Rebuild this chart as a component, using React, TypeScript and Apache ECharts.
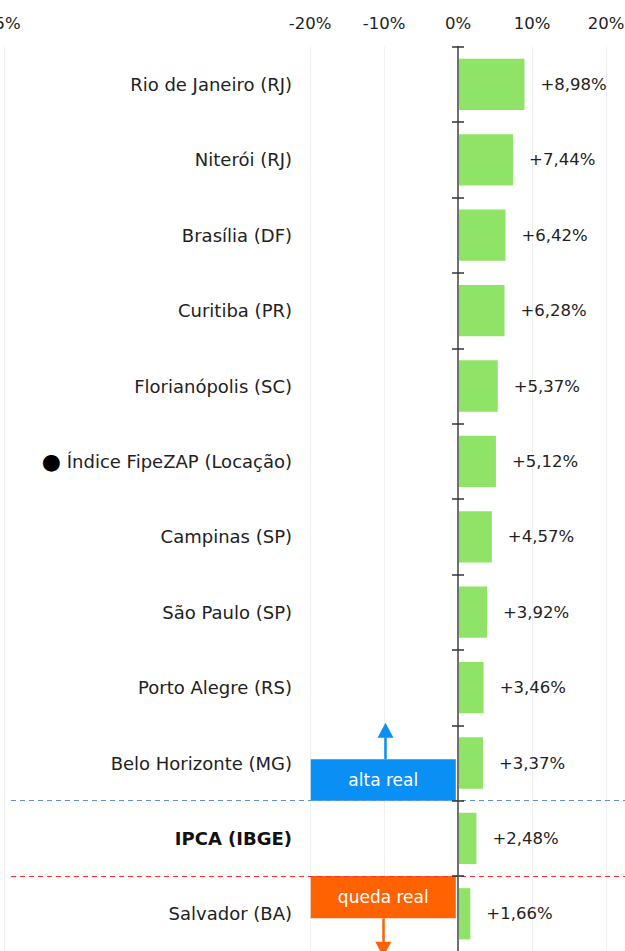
import React, { useEffect, useRef } from "react";
import * as echarts from "echarts";

const categories = [
  "Rio de Janeiro (RJ)",
  "Niterói (RJ)",
  "Brasília (DF)",
  "Curitiba (PR)",
  "Florianópolis (SC)",
  "Índice FipeZAP (Locação)",
  "Campinas (SP)",
  "São Paulo (SP)",
  "Porto Alegre (RS)",
  "Belo Horizonte (MG)",
  "IPCA (IBGE)",
  "Salvador (BA)",
];
const values = [8.98, 7.44, 6.42, 6.28, 5.37, 5.12, 4.57, 3.92, 3.46, 3.37, 2.48, 1.66];
const boldCategory = "IPCA (IBGE)";
const dotCategory = "Índice FipeZAP (Locação)";

const X_MIN = -61.25;
const X_MAX = 22.56;
const xTicks = [X_MIN, -20, -10, 0, 10, 20];
const xTickLabels = ["-5%", "-20%", "-10%", "0%", "10%", "20%"];

// row boundaries (in row units, 0 = top) for the IPCA thresholds
const altaLine = 10;
const quedaLine = 11;
const altaText = "alta real";
const quedaText = "queda real";

const FONT = "DejaVu Sans";

const W = 625;
const H = 1000;
const GRID_LEFT = 4.7;
const GRID_TOP = 46.7;
const GRID_BOTTOM_Y = 951.5;

export default function App() {
  const ref = useRef<HTMLDivElement>(null);
  useEffect(() => {
    if (!ref.current) return;
    const chart = echarts.init(ref.current, undefined, { renderer: "svg" });
    const fmtPct = (v: number) => "+" + v.toFixed(2).replace(".", ",") + "%";
    // pixel position of value 0 on the x axis, so the category axis sits on it
    const zeroX = GRID_LEFT + ((0 - X_MIN) / (X_MAX - X_MIN)) * (W - GRID_LEFT);
    const axisOffset = -(zeroX - GRID_LEFT);
    const option: any = {
      animation: false,
      textStyle: { fontFamily: FONT },
      grid: {
        left: GRID_LEFT,
        right: 0,
        top: GRID_TOP,
        bottom: H - GRID_BOTTOM_Y,
        containLabel: false,
        outerBoundsMode: "none",
      },
      xAxis: {
        type: "value",
        position: "top",
        min: X_MIN,
        max: X_MAX,
        axisLine: { show: false },
        axisTick: { show: false, customValues: xTicks },
        axisLabel: {
          customValues: xTicks,
          fontSize: 16.5,
          color: "#222",
          margin: 15,
          fontFamily: FONT,
          formatter: (v: number) => {
            const i = xTicks.findIndex((t) => Math.abs(t - v) < 1e-6);
            return i >= 0 ? xTickLabels[i] : "";
          },
        },
        splitLine: { show: true, lineStyle: { color: "#efefef", width: 1 } },
      },
      yAxis: [
        {
          type: "category",
          data: categories,
          inverse: true,
          position: "left",
          offset: axisOffset,
          z: 10,
          axisLine: { show: true, onZero: false, lineStyle: { color: "#707070", width: 2 } },
          axisTick: { show: true, length: 6, lineStyle: { color: "#333", width: 1.5 } },
          axisLabel: {
            margin: 166,
            fontSize: 18,
            color: "#222",
            fontFamily: FONT,
            formatter: (v: string) =>
              v === boldCategory ? "{b|" + v + "}" : v === dotCategory ? "{d|●} " + v : v,
            rich: {
              b: { fontWeight: "bold", fontSize: 18, color: "#111", fontFamily: FONT },
              d: { fontSize: 22, color: "#000", fontFamily: FONT },
            },
          },
          splitLine: { show: false },
        },
        {
          type: "category",
          data: categories,
          inverse: true,
          position: "left",
          offset: axisOffset,
          z: 10,
          axisLine: { show: false, onZero: false },
          axisTick: { show: true, inside: true, length: 6, lineStyle: { color: "#333", width: 1.5 } },
          axisLabel: { show: false },
          splitLine: { show: false },
        },
        {
          type: "value",
          min: 0,
          max: categories.length,
          inverse: true,
          show: false,
        },
      ],
      series: [
        {
          type: "bar",
          yAxisIndex: 0,
          data: values,
          barCategoryGap: "32%",
          itemStyle: { color: "#8fe468" },
          label: {
            show: true,
            position: "right",
            distance: 16,
            fontSize: 16.5,
            color: "#222",
            fontFamily: FONT,
            formatter: (p: any) => fmtPct(p.value),
          },
        },
        {
          type: "line",
          yAxisIndex: 2,
          data: [],
          silent: true,
          markArea: {
            silent: true,
            data: [
              [
                {
                  name: altaText,
                  coord: [-19.9, altaLine - 0.55],
                  itemStyle: { color: "#0a8ff5" },
                  label: { show: true, position: "inside", color: "#fff", fontSize: 17, fontFamily: FONT },
                },
                { coord: [-0.3, altaLine] },
              ],
              [
                {
                  name: quedaText,
                  coord: [-19.9, quedaLine],
                  itemStyle: { color: "#ff6200" },
                  label: { show: true, position: "inside", color: "#fff", fontSize: 17, fontFamily: FONT },
                },
                { coord: [-0.3, quedaLine + 0.56] },
              ],
            ],
          },
          markLine: {
            silent: true,
            symbol: ["none", "none"],
            label: { show: false },
            data: [
              [
                { coord: [-60.4, altaLine], lineStyle: { color: "#5b8fd6", width: 1, type: [5, 4] } },
                { coord: [X_MAX, altaLine] },
              ],
              [
                { coord: [-60.4, quedaLine], lineStyle: { color: "#ff2a2a", width: 1, type: [5, 4] } },
                { coord: [X_MAX, quedaLine] },
              ],
              [
                { coord: [-9.8, altaLine - 0.55], symbol: "none", lineStyle: { color: "#0a8ff5", width: 2.5, type: "solid" } },
                { coord: [-9.8, altaLine - 0.935], symbol: "triangle", symbolSize: [16, 15] },
              ],
              [
                { coord: [-10.1, quedaLine + 0.56], symbol: "none", lineStyle: { color: "#ff6200", width: 2.5, type: "solid" } },
                { coord: [-10.1, quedaLine + 0.97], symbol: "triangle", symbolSize: [16, 15] },
              ],
            ],
          },
        },
      ],
    };
    chart.setOption(option);
    return () => chart.dispose();
  }, []);
  return (
    <div style={{ position: "absolute", left: 0, top: 0, width: W, height: 951, overflow: "hidden", background: "#fff" }}>
      <div ref={ref} style={{ width: W, height: H }} />
    </div>
  );
}
